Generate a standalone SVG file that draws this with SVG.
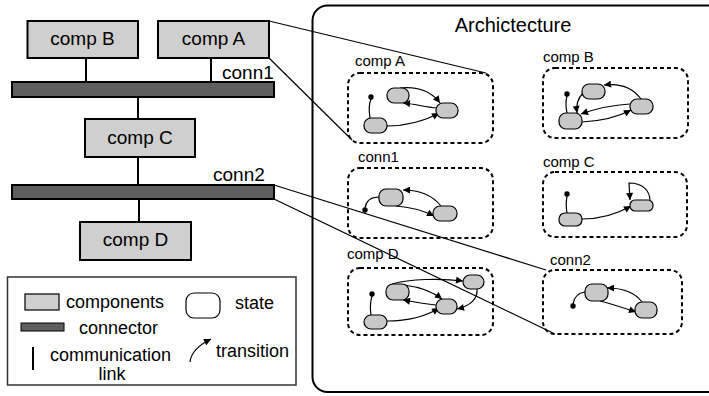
<svg xmlns="http://www.w3.org/2000/svg" width="709" height="396" viewBox="0 0 709 396">
  <style>
    text { font-family: "Liberation Sans", Arial, sans-serif; fill: #000; }
    .box { fill: #cfcfcf; stroke: #000; stroke-width: 2; }
    .bar { fill: #5f5f5f; stroke: #000; stroke-width: 2; }
    .link { stroke: #000; stroke-width: 2; fill: none; }
    .wire { stroke: #000; stroke-width: 1.2; fill: none; }
    .big { font-size: 18px; }
    .name { font-size: 19px; }
    .lbl { font-size: 15px; }
    .region { fill: none; stroke: #000; stroke-width: 2; stroke-dasharray: 4 3; }
    .st { fill: #c8c8c8; stroke: #000; stroke-width: 1.2; }
    .tr { fill: none; stroke: #000; stroke-width: 1.2; marker-end: url(#ah); }
    .ln { fill: none; stroke: #000; stroke-width: 1.2; }
  </style>
  <defs>
    <marker id="ah" viewBox="0 0 10 10" refX="10" refY="5" markerWidth="8" markerHeight="7" markerUnits="userSpaceOnUse" orient="auto">
      <path d="M0,0 L10,5 L0,10 z" fill="#000"/>
    </marker>
  </defs>
  <rect width="709" height="396" fill="#fff"/>

  <!-- architecture frame -->
  <g id="architecture">
    <rect x="312.5" y="5.5" width="410" height="386.5" rx="15" fill="none" stroke="#000" stroke-width="2"/>
    <text x="513" y="32" font-size="20" text-anchor="middle">Archictecture</text>
  </g>

  <!-- communication links and bars -->
  <g id="connectors">
    <line class="link" x1="86" y1="58" x2="86" y2="82"/>
    <line class="link" x1="211" y1="58" x2="211" y2="82"/>
    <line class="link" x1="138" y1="97" x2="138" y2="119"/>
    <line class="link" x1="138" y1="157" x2="138" y2="185"/>
    <line class="link" x1="139" y1="199" x2="139" y2="222"/>
    <line class="wire" x1="269" y1="21" x2="486" y2="73"/>
    <line class="wire" x1="269" y1="58" x2="352" y2="140"/>
    <line class="wire" x1="274" y1="185" x2="546" y2="270"/>
    <line class="wire" x1="274" y1="199" x2="555" y2="334"/>
  </g>

  <g id="compB">
    <rect class="box" x="27.5" y="21" width="110.5" height="37"/>
    <text class="name" x="82.5" y="45" text-anchor="middle">comp B</text>
  </g>
  <g id="compA">
    <rect class="box" x="158" y="21" width="111" height="37"/>
    <text class="name" x="213.5" y="45" text-anchor="middle">comp A</text>
  </g>
  <g id="conn1">
    <rect class="bar" x="12" y="82" width="262" height="15"/>
    <text class="name" x="222" y="79">conn1</text>
  </g>
  <g id="compC">
    <rect class="box" x="85" y="119" width="110" height="38"/>
    <text class="name" x="140" y="144" text-anchor="middle">comp C</text>
  </g>
  <g id="conn2">
    <rect class="bar" x="12" y="185" width="262" height="14"/>
    <text class="name" x="213" y="181">conn2</text>
  </g>
  <g id="compD">
    <rect class="box" x="80" y="222" width="111" height="38"/>
    <text class="name" x="135.5" y="246" text-anchor="middle">comp D</text>
  </g>

  <!-- legend -->
  <g id="legend">
    <rect x="7.5" y="277" width="288.5" height="108" fill="none" stroke="#333" stroke-width="1.5"/>
    <rect x="25" y="294" width="34" height="16" fill="#cfcfcf" stroke="#000" stroke-width="1.2"/>
    <text class="big" x="66" y="308">components</text>
    <rect x="186" y="293" width="34" height="25" rx="8" fill="#fff" stroke="#000" stroke-width="1.2"/>
    <text class="big" x="235" y="309">state</text>
    <rect x="21" y="323" width="43" height="8" fill="#5f5f5f" stroke="#000" stroke-width="1"/>
    <text class="big" x="79" y="334">connector</text>
    <line x1="33" y1="347" x2="33" y2="370" stroke="#000" stroke-width="2"/>
    <text class="big" x="50" y="361">communication</text>
    <text class="big" x="112" y="380" text-anchor="middle">link</text>
    <path class="tr" d="M190,362 C191,352 199,345 211,339"/>
    <text class="big" x="216" y="357">transition</text>
  </g>

  <!-- behaviour of comp A -->
  <g id="sm-compA">
    <rect class="region" x="348" y="73" width="145" height="70" rx="12"/>
    <text class="lbl" x="355" y="66">comp A</text>
    <circle cx="371" cy="97" r="2.7"/>
    <path class="ln" d="M371,99 C368,106 369,112 370,118"/>
    <path class="tr" d="M400,88 C418,86 432,92 440,103"/>
    <path class="tr" d="M437,108 C425,107 415,104 403,103"/>
    <path class="tr" d="M387,126 C405,126 425,121 439,113"/>
    <rect class="st" x="387" y="88" width="22" height="15" rx="7"/>
    <rect class="st" x="436" y="103" width="22" height="15" rx="7"/>
    <rect class="st" x="364" y="118" width="23" height="15" rx="7"/>
  </g>

  <!-- behaviour of comp B -->
  <g id="sm-compB">
    <rect class="region" x="543" y="68" width="145" height="70" rx="12"/>
    <text class="lbl" x="543" y="62">comp B</text>
    <circle cx="567" cy="94" r="2.7"/>
    <path class="ln" d="M567,96 C565,103 566,108 567,113"/>
    <path class="tr" d="M641,99 C633,88 620,83 604,85"/>
    <path class="tr" d="M583,93 C578,98 576,105 577,113"/>
    <path class="tr" d="M630,104 C612,105 595,109 581,114"/>
    <path class="tr" d="M582,122 C600,121 618,117 631,110"/>
    <rect class="st" x="582" y="84" width="23" height="15" rx="7"/>
    <rect class="st" x="630" y="99" width="23" height="15" rx="7"/>
    <rect class="st" x="559" y="113" width="23" height="16" rx="7"/>
  </g>

  <!-- behaviour of conn1 -->
  <g id="sm-conn1">
    <rect class="region" x="348" y="168" width="145" height="70" rx="12"/>
    <text class="lbl" x="358" y="162" font-size="14">conn1</text>
    <circle cx="365" cy="210" r="2.7"/>
    <path class="ln" d="M365,208 C366,201 371,197 379,197"/>
    <path class="tr" d="M441,206 C433,196 420,190 403,190"/>
    <path class="tr" d="M396,206 C410,207 422,210 434,216"/>
    <rect class="st" x="379" y="189" width="24" height="17" rx="7"/>
    <rect class="st" x="433" y="206" width="24" height="15" rx="7"/>
  </g>

  <!-- behaviour of comp C -->
  <g id="sm-compC">
    <rect class="region" x="543" y="172" width="144" height="65" rx="12"/>
    <text class="lbl" x="543" y="167">comp C</text>
    <circle cx="567" cy="194" r="2.7"/>
    <path class="ln" d="M567,196 C566,202 566,208 567,213"/>
    <path class="tr" d="M582,219 C600,219 617,214 631,206"/>
    <path class="tr" d="M650,201 C650,190 642,183 629,183 L630,200"/>
    <rect class="st" x="559" y="213" width="23" height="13" rx="6"/>
    <rect class="st" x="630" y="200" width="23" height="11" rx="5"/>
  </g>

  <!-- behaviour of comp D -->
  <g id="sm-compD">
    <rect class="region" x="348" y="268" width="145" height="67" rx="12"/>
    <text class="lbl" x="347" y="259" font-size="16">comp D</text>
    <circle cx="372" cy="294" r="2.7"/>
    <path class="ln" d="M372,296 C370,303 370,309 371,315"/>
    <path class="tr" d="M392,284 C410,279 440,278 463,281"/>
    <path class="tr" d="M404,285 C420,287 433,292 442,299"/>
    <path class="tr" d="M436,305 C425,304 414,302 403,300"/>
    <path class="tr" d="M387,321 C405,321 425,317 439,308"/>
    <path class="tr" d="M477,289 C478,299 470,306 457,309"/>
    <rect class="st" x="386" y="284" width="23" height="16" rx="7"/>
    <rect class="st" x="463" y="275" width="21" height="14" rx="7"/>
    <rect class="st" x="436" y="299" width="21" height="15" rx="7"/>
    <rect class="st" x="364" y="315" width="23" height="14" rx="7"/>
  </g>

  <!-- behaviour of conn2 -->
  <g id="sm-conn2">
    <rect class="region" x="543" y="270" width="139" height="64" rx="12"/>
    <text class="lbl" x="550" y="265" font-size="16">conn2</text>
    <circle cx="573" cy="306" r="2.7"/>
    <path class="ln" d="M573,304 C574,297 578,293 585,292"/>
    <path class="tr" d="M642,302 C636,294 624,288 607,288"/>
    <path class="tr" d="M600,301 C612,304 624,308 636,312"/>
    <rect class="st" x="585" y="284" width="23" height="17" rx="7"/>
    <rect class="st" x="635" y="302" width="22" height="16" rx="7"/>
  </g>
</svg>
